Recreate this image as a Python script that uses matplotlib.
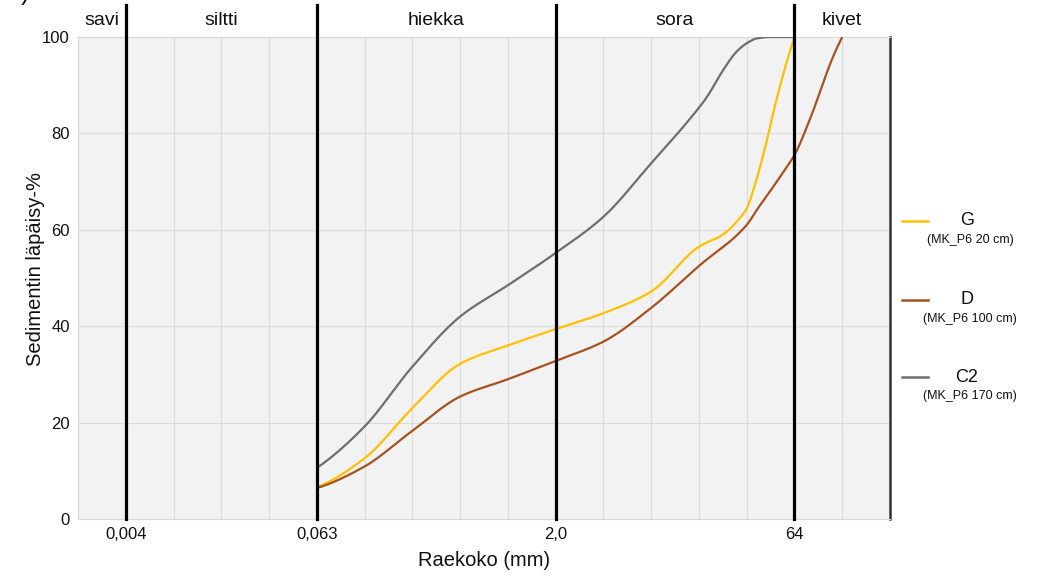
import numpy as np
import matplotlib
matplotlib.use("Agg")
import matplotlib.pyplot as plt
from matplotlib.lines import Line2D

plt.rcParams['font.family'] = ['Liberation Sans', 'DejaVu Sans']

# ---- data (grain size mm, cumulative passing %) ----
g_size = [0.0625, 0.125, 0.25, 0.5, 1, 2, 4, 8, 16, 22.6, 29.1, 32.1, 36.2, 39.9, 43.9, 47.2, 52.1, 57.4, 64]
g_vals = [6.6, 12.6, 23.0, 32.2, 36.0, 39.4, 42.7, 47.2, 56.5, 59.0, 62.5, 64.5, 69.5, 74.5, 80.0, 84.5, 90.0, 95.0, 100.0]

d_size = [0.0625, 0.125, 0.25, 0.5, 1, 2, 4, 8, 16, 32, 37, 47.2, 57.4, 64, 80.4, 112, 128]
d_vals = [6.4, 10.9, 18.3, 25.4, 29.0, 32.8, 36.8, 43.8, 52.5, 61.0, 64.1, 69.0, 73.1, 75.5, 83.1, 95.9, 100.0]

c2_size = [0.0625, 0.125, 0.25, 0.5, 1, 2, 4, 8, 14.1, 18, 22.8, 27.7, 32, 37, 45, 64]
c2_vals = [10.6, 19.2, 31.6, 42.0, 48.5, 55.2, 62.7, 73.8, 83.1, 87.6, 93.2, 97.0, 98.7, 99.7, 100.0, 100.0]

series_names = ["G", "D", "C2"]
series_sub = ["(MK_P6 20 cm)", "(MK_P6 100 cm)", "(MK_P6 170 cm)"]
series_colors = ["#FFC000", "#A5521F", "#6E6E6E"]

boundaries = [2**-8, 2**-4, 2**1, 2**6]
boundary_labels = ["0,004", "0,063", "2,0", "64"]
zone_names = ["savi", "siltti", "hiekka", "sora", "kivet"]
zone_centers = [2**-8.5, 2**-6, 2**-1.5, 2**3.5, 2**7]
y_ticks = [0, 20, 40, 60, 80, 100]


def pchip(x, y, xn):
    x = np.asarray(x, float); y = np.asarray(y, float)
    h = np.diff(x); delta = np.diff(y) / h
    n = len(x); d = np.zeros(n)
    for k in range(1, n - 1):
        if delta[k - 1] * delta[k] <= 0:
            d[k] = 0
        else:
            w1 = 2 * h[k] + h[k - 1]; w2 = h[k] + 2 * h[k - 1]
            d[k] = (w1 + w2) / (w1 / delta[k - 1] + w2 / delta[k])
    def endpt(h0, h1, m0, m1):
        dd = ((2 * h0 + h1) * m0 - h0 * m1) / (h0 + h1)
        if np.sign(dd) != np.sign(m0):
            dd = 0
        elif np.sign(m0) != np.sign(m1) and abs(dd) > abs(3 * m0):
            dd = 3 * m0
        return dd
    d[0] = endpt(h[0], h[1], delta[0], delta[1])
    d[-1] = endpt(h[-1], h[-2], delta[-1], delta[-2])
    idx = np.clip(np.searchsorted(x, xn) - 1, 0, n - 2)
    t = (xn - x[idx]) / h[idx]
    h00 = 2*t**3 - 3*t**2 + 1; h10 = t**3 - 2*t**2 + t
    h01 = -2*t**3 + 3*t**2; h11 = t**3 - t**2
    return h00*y[idx] + h10*h[idx]*d[idx] + h01*y[idx+1] + h11*h[idx]*d[idx+1]


fig = plt.figure(figsize=(10.39, 5.79), dpi=100)
ax = fig.add_axes([78/1039, 1-519/579, (890-78)/1039, (519-37)/579])
ax.set_facecolor("#F2F2F2")
ax.set_xscale("log", base=2)
ax.set_xlim(2**-9, 2**8)
ax.set_ylim(0, 100)

# grid
for k in range(-9, 9):
    ax.axvline(2.0**k, color="#DCDCDC", lw=0.8, zorder=1)
for yv in y_ticks:
    ax.axhline(yv, color="#DCDCDC", lw=0.8, zorder=1)

# curves
for sz, vals, col in [(g_size, g_vals, series_colors[0]),
                      (d_size, d_vals, series_colors[1]),
                      (c2_size, c2_vals, series_colors[2])]:
    lx = np.log2(sz)
    xn = np.linspace(lx[0], lx[-1], 500)
    yn = pchip(lx, vals, xn)
    ax.plot(2**xn, yn, color=col, lw=1.6, zorder=3, solid_capstyle="butt")

# boundaries
top_ext = (519 - 5) / (519 - 37)
for b in boundaries:
    ax.axvline(b, ymin=0, ymax=top_ext, color="black", lw=2.3, zorder=4, clip_on=False)

for name, c in zip(zone_names, zone_centers):
    ax.text(c, 103.4, name, ha="center", va="center", fontsize=14, color="#111111")

# spines
for s in ["top", "left", "bottom"]:
    ax.spines[s].set_color("#D9D9D9")
    ax.spines[s].set_linewidth(0.8)
ax.spines["right"].set_color("#333333")
ax.spines["right"].set_linewidth(1.8)

ax.set_xticks(boundaries)
ax.set_xticklabels(boundary_labels)
ax.xaxis.set_minor_locator(matplotlib.ticker.NullLocator())
ax.set_yticks(y_ticks)
ax.set_yticklabels([str(v) for v in y_ticks])
ax.tick_params(axis="both", length=0, labelsize=12, colors="#111111")
ax.tick_params(axis="x", pad=6)
ax.tick_params(axis="y", pad=6)
ax.set_xlabel("Raekoko (mm)", fontsize=14.5, labelpad=6, color="#111111")
ax.set_ylabel("Sedimentin läpäisy-%", fontsize=14.5, color="#111111")
ax.yaxis.set_label_coords(-0.041, 0.519)

# legend (manual)
leg_y = [221, 300, 377]
for name, sub, col, yp in zip(series_names, series_sub, series_colors, leg_y):
    yf = 1 - yp / 579
    fig.add_artist(Line2D([902/1039, 928/1039], [yf, yf], color=col, lw=1.8))
    fig.text(967/1039, yf, name, ha="center", va="center", fontsize=13, color="#111111")
    fig.text(970/1039, 1 - (yp + 19) / 579, sub, ha="center", va="center", fontsize=9, color="#111111")

fig.text(0.020, 1.012, ")", fontsize=18, ha="left", va="center", color="#111111")

fig.savefig("out.png", dpi=100)
